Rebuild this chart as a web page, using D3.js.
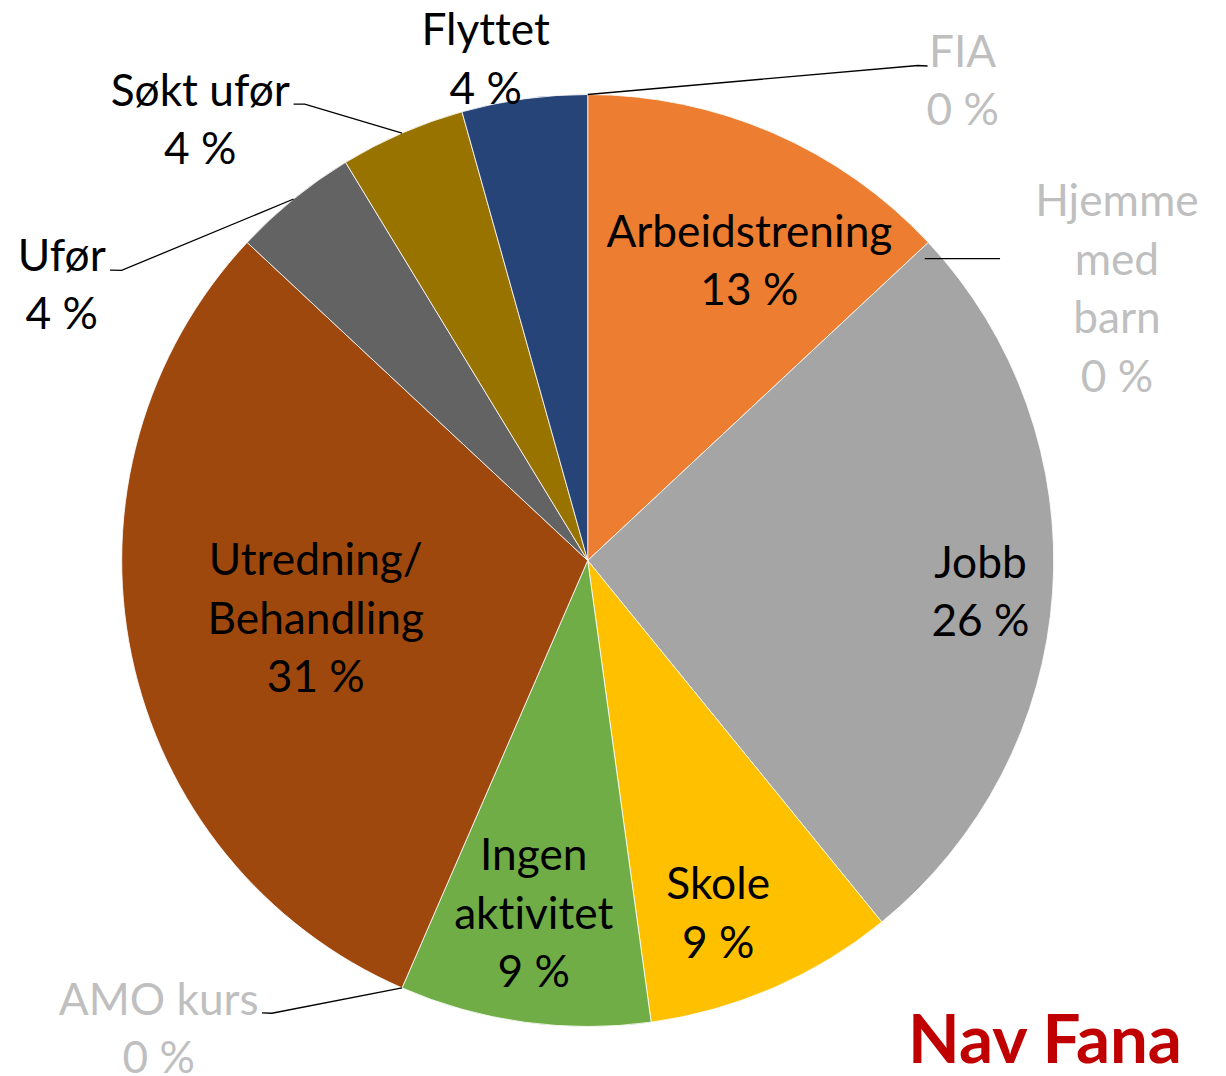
<!DOCTYPE html>
<html>
<head>
<meta charset="utf-8">
<script src="https://cdn.jsdelivr.net/npm/d3@7"></script>
<style>
body { margin: 0; background: #fff; }
text { font-family: Lato, "Open Sans", sans-serif; font-variant-ligatures: none; }
</style>
</head>
<body>
<div id="chart-section"></div>
<script>
// data
var categories = ["FIA", "Arbeidstrening", "Hjemme med barn", "Jobb", "Skole", "Ingen aktivitet", "AMO kurs", "Utredning/ Behandling", "Ufør", "Søkt ufør", "Flyttet"]
var shares = [0, 13.05, 0, 26.1, 8.7, 8.7, 0, 30.45, 4.35, 4.35, 4.35]
var pctLabels = ["0 %", "13 %", "0 %", "26 %", "9 %", "9 %", "0 %", "31 %", "4 %", "4 %", "4 %"]
var nameLines = [["FIA"], ["Arbeidstrening"], ["Hjemme", "med", "barn"], ["Jobb"], ["Skole"], ["Ingen", "aktivitet"], ["AMO kurs"], ["Utredning/", "Behandling"], ["Ufør"], ["Søkt ufør"], ["Flyttet"]]
var sliceColors = ["#4472C4", "#ED7D31", "#5B9BD5", "#A5A5A5", "#FFC000", "#70AD47", "#255E91", "#9E480E", "#636363", "#997300", "#264478"]
var title = "Nav Fana"

// layout: label centres as [angle deg clockwise from 12, radius px]
var labelPolar = [[38.0, 609], [28.3, 341], [62.8, 595], [94.5, 394], [159.7, 376], [188.7, 357], [222.5, 635], [258.0, 278], [297.7, 594], [318.7, 587], [348.5, 512]]
// leader lines: start = [angle offset from slice mid, radius factor], then elbow points in polar
var leaders = {
        0: {start: [0, 1], pts: [[33.7, 595], [34.5, 600]]},
        2: {start: [1.2, 0.971], pts: [[53.8, 511]]},
        6: {start: [0, 1], pts: [[214.9, 552], [215.75, 557.5]]},
        8: {start: [0, 1], pts: [[301.9, 549], [301.3, 559]]},
        9: {start: [0, 1], pts: [[328.2, 537], [327.2, 543]]}
}

var width = 1226, height = 1076
var cx = 587.7, cy = 560.5, radius = 466
var lineH = 58.5

var svg = d3.select("#chart-section")
        .append("svg")
        .attr("width", width)
        .attr("height", height)

var chart = svg.append("g")
        .attr("transform", "translate(" + cx + "," + cy + ")")

var rad = d => d * Math.PI / 180

var pie = d3.pie().sort(null).value(d => d.v)
var arcs = pie(categories.map((c, i) => ({name: c, v: shares[i], i: i})))
var arc = d3.arc().innerRadius(0).outerRadius(radius)

chart.selectAll("path.slice")
        .data(arcs)
        .enter()
        .append("path")
        .attr("class", "slice")
        .attr("d", arc)
        .attr("fill", d => sliceColors[d.data.i])
        .attr("stroke", "#ffffff")
        .attr("stroke-width", d => d.value > 0 ? 0.8 : 0)

// measure fonts to fit Calibri-like widths
var probe = svg.append("text").attr("font-size", 100).text("Arbeidstrening")
var fs = 100 * 286 / probe.node().getComputedTextLength()
probe.attr("font-weight", 700).text(title)
var titleFs = 100 * 274 / probe.node().getComputedTextLength()
probe.remove()
var capH = fs * 0.70

// leader lines
Object.keys(leaders).forEach(k => {
        var a = arcs[k]
        var L = leaders[k]
        var mid = (a.startAngle + a.endAngle) / 2 + rad(L.start[0])
        var pts = [d3.pointRadial(mid, radius * L.start[1])]
        L.pts.forEach(p => pts.push(d3.pointRadial(rad(p[0]), p[1])))
        chart.append("path")
                .attr("d", d3.line()(pts))
                .attr("fill", "none")
                .attr("stroke", "#000")
                .attr("stroke-width", 1.3)
})

// labels
arcs.forEach((a, i) => {
        var p = d3.pointRadial(rad(labelPolar[i][0]), labelPolar[i][1])
        var lines = nameLines[i].concat([pctLabels[i]])
        var n = lines.length
        var t = chart.append("text")
                .attr("text-anchor", "middle")
                .attr("font-size", fs)
                .attr("fill", a.value > 0 ? "#000000" : "#BFBFBF")
        lines.forEach((s, j) => {
                t.append("tspan")
                        .attr("x", p[0])
                        .attr("y", p[1] + (j - (n - 1) / 2) * lineH + capH / 2)
                        .text(s)
        })
})

// title
svg.append("text")
        .text(title)
        .attr("x", 1045)
        .attr("y", 1063)
        .attr("text-anchor", "middle")
        .attr("font-size", titleFs)
        .attr("font-weight", 700)
        .attr("fill", "#C00000")
</script>
</body>
</html>
